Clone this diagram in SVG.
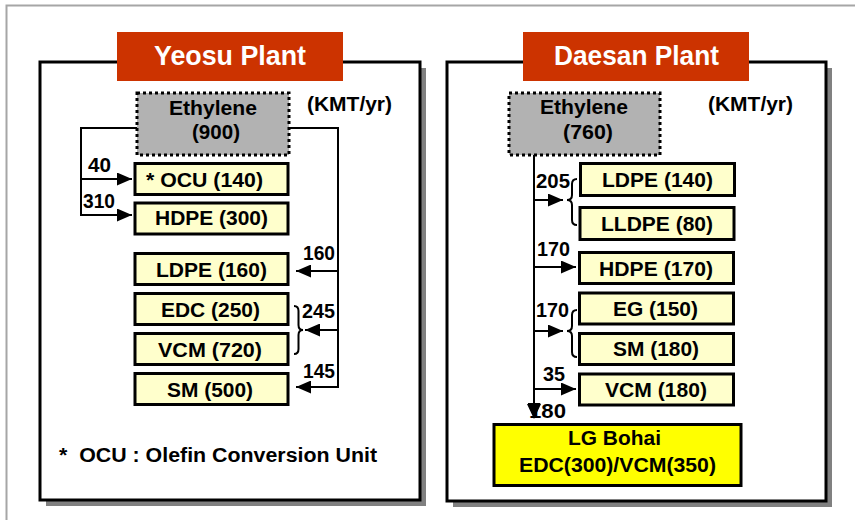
<svg xmlns="http://www.w3.org/2000/svg" width="855" height="520" viewBox="0 0 855 520">
<defs>
<marker id="ah" viewBox="0 0 15 13" refX="15" refY="6.5" markerWidth="15" markerHeight="13" markerUnits="userSpaceOnUse" orient="auto">
<path d="M0,0 L15,6.5 L0,13 z" fill="#000"/>
</marker>
</defs>
<style>
text{font-family:"Liberation Sans",Arial,sans-serif;font-weight:bold;fill:#000}
.title{font-size:27px;fill:#fff}
.t19{font-size:21px}
.t18{font-size:20px}
.prod{fill:#FFFFCC;stroke:#000;stroke-width:3}
.eth{fill:#B2B2B2;stroke:#000;stroke-width:3;stroke-dasharray:3 3}
.panel{fill:#fff;stroke:#000;stroke-width:3}
.shadow{fill:#808080}
.conn{fill:none;stroke:#000;stroke-width:2}
.arr{marker-end:url(#ah)}
</style>
<rect width="855" height="520" fill="#fff"/>
<path d="M6.5,520 V5.5 H855" fill="none" stroke="#A6A6A6" stroke-width="2"/>

<g id="yeosu-panel">
<rect class="shadow" x="46" y="68" width="380" height="438"/>
<rect class="panel" x="40" y="62" width="380" height="438"/>
</g>
<g id="daesan-panel">
<rect class="shadow" x="453" y="68" width="379" height="439"/>
<rect class="panel" x="447" y="62" width="379" height="439"/>
</g>

<g id="yeosu-title">
<rect x="117" y="32" width="226" height="49" fill="#CC3300"/>
<text class="title" x="154" y="65" textLength="152" lengthAdjust="spacingAndGlyphs">Yeosu Plant</text>
</g>
<g id="daesan-title">
<rect x="523" y="32" width="226" height="49" fill="#CC3300"/>
<text class="title" x="554" y="65" textLength="165" lengthAdjust="spacingAndGlyphs">Daesan Plant</text>
</g>

<g id="connectors">
<path class="conn arr" d="M137,128 H81 V215 H132"/>
<path class="conn arr" d="M81,179 H132"/>
<path class="conn arr" d="M289,128 H338 V387 H296"/>
<path class="conn arr" d="M338,271 H296"/>
<path class="conn arr" d="M338,330 H305"/>
<path class="conn" d="M294,306 q4.5,0 4.5,5 v14 q0,5 4.5,5 q-4.5,0 -4.5,5 v14 q0,5 -4.5,5"/>
<path class="conn arr" d="M534,155 V418"/>
<path class="conn arr" d="M534,200 H563"/>
<path class="conn arr" d="M534,267 H576"/>
<path class="conn arr" d="M534,331 H563"/>
<path class="conn arr" d="M534,389 H576"/>
<path class="conn" d="M577,179 q-5,0 -5,5 v11 q0,5 -5,5 q5,0 5,5 v15 q0,5 5,5"/>
<path class="conn" d="M577,310 q-5,0 -5,5 v11 q0,5 -5,5 q5,0 5,5 v16 q0,5 5,5"/>
</g>

<g id="flow-labels">
<text class="t18" x="88" y="172" textLength="23" lengthAdjust="spacingAndGlyphs">40</text>
<text class="t18" x="83" y="208" textLength="32" lengthAdjust="spacingAndGlyphs">310</text>
<text class="t18" x="303" y="260" textLength="32" lengthAdjust="spacingAndGlyphs">160</text>
<text class="t18" x="302" y="318" textLength="33" lengthAdjust="spacingAndGlyphs">245</text>
<text class="t18" x="303" y="378" textLength="32" lengthAdjust="spacingAndGlyphs">145</text>
<text class="t18" x="536" y="188" textLength="34" lengthAdjust="spacingAndGlyphs">205</text>
<text class="t18" x="537" y="256" textLength="33" lengthAdjust="spacingAndGlyphs">170</text>
<text class="t18" x="536" y="317" textLength="33" lengthAdjust="spacingAndGlyphs">170</text>
<text class="t18" x="543" y="381" textLength="22" lengthAdjust="spacingAndGlyphs">35</text>
<text class="t18" x="529" y="418" textLength="37" lengthAdjust="spacingAndGlyphs">180</text>
</g>
<path d="M527,404 L541,404 L534,419 z" fill="#000"/>

<g id="units">
<text class="t18" x="307" y="111" textLength="85" lengthAdjust="spacingAndGlyphs">(KMT/yr)</text>
<text class="t18" x="708" y="111" textLength="85" lengthAdjust="spacingAndGlyphs">(KMT/yr)</text>
</g>

<g id="y-ethylene">
<rect class="eth" x="137" y="93" width="152" height="62"/>
<text class="t19" x="169" y="115" textLength="88" lengthAdjust="spacingAndGlyphs">Ethylene</text>
<text class="t19" x="192" y="139" textLength="48" lengthAdjust="spacingAndGlyphs">(900)</text>
</g>
<g id="y-ocu">
<rect class="prod" x="135" y="163.5" width="153" height="31"/>
<text class="t19" x="146" y="187" textLength="117" lengthAdjust="spacingAndGlyphs">* OCU (140)</text>
</g>
<g id="y-hdpe">
<rect class="prod" x="135" y="203" width="153" height="31"/>
<text class="t19" x="155" y="225" textLength="113" lengthAdjust="spacingAndGlyphs">HDPE (300)</text>
</g>
<g id="y-ldpe">
<rect class="prod" x="135" y="253.5" width="153" height="31"/>
<text class="t19" x="156" y="277" textLength="111" lengthAdjust="spacingAndGlyphs">LDPE (160)</text>
</g>
<g id="y-edc">
<rect class="prod" x="135" y="293.5" width="153" height="31"/>
<text class="t19" x="161" y="317" textLength="99" lengthAdjust="spacingAndGlyphs">EDC (250)</text>
</g>
<g id="y-vcm">
<rect class="prod" x="135" y="333.5" width="153" height="31"/>
<text class="t19" x="158" y="357" textLength="104" lengthAdjust="spacingAndGlyphs">VCM (720)</text>
</g>
<g id="y-sm">
<rect class="prod" x="135" y="373.5" width="153" height="31"/>
<text class="t19" x="167" y="397" textLength="86" lengthAdjust="spacingAndGlyphs">SM (500)</text>
</g>
<g id="footnote">
<text class="t18" x="59" y="462" textLength="318" lengthAdjust="spacingAndGlyphs" xml:space="preserve">*  OCU : Olefin Conversion Unit</text>
</g>

<g id="d-ethylene">
<rect class="eth" x="509" y="93" width="151" height="62"/>
<text class="t19" x="540" y="114" textLength="88" lengthAdjust="spacingAndGlyphs">Ethylene</text>
<text class="t19" x="563" y="139" textLength="50" lengthAdjust="spacingAndGlyphs">(760)</text>
</g>
<g id="d-ldpe">
<rect class="prod" x="580.5" y="163.5" width="154" height="32"/>
<text class="t19" x="602" y="187" textLength="111" lengthAdjust="spacingAndGlyphs">LDPE (140)</text>
</g>
<g id="d-lldpe">
<rect class="prod" x="580" y="207.5" width="154" height="32"/>
<text class="t19" x="601" y="231" textLength="112" lengthAdjust="spacingAndGlyphs">LLDPE (80)</text>
</g>
<g id="d-hdpe">
<rect class="prod" x="579.5" y="252.5" width="154" height="31"/>
<text class="t19" x="599" y="276" textLength="114" lengthAdjust="spacingAndGlyphs">HDPE (170)</text>
</g>
<g id="d-eg">
<rect class="prod" x="579.5" y="293" width="154" height="31"/>
<text class="t19" x="613" y="316" textLength="85" lengthAdjust="spacingAndGlyphs">EG (150)</text>
</g>
<g id="d-sm">
<rect class="prod" x="579.5" y="333.5" width="154" height="31"/>
<text class="t19" x="613" y="356" textLength="86" lengthAdjust="spacingAndGlyphs">SM (180)</text>
</g>
<g id="d-vcm">
<rect class="prod" x="579.5" y="374" width="154" height="31"/>
<text class="t19" x="605" y="397" textLength="102" lengthAdjust="spacingAndGlyphs">VCM (180)</text>
</g>
<g id="lg-bohai">
<rect x="494" y="424.5" width="247" height="61" fill="#FFFF00" stroke="#000" stroke-width="3"/>
<text class="t18" x="568" y="445" textLength="93" lengthAdjust="spacingAndGlyphs">LG Bohai</text>
<text class="t18" x="519" y="472" textLength="197" lengthAdjust="spacingAndGlyphs">EDC(300)/VCM(350)</text>
</g>
</svg>
